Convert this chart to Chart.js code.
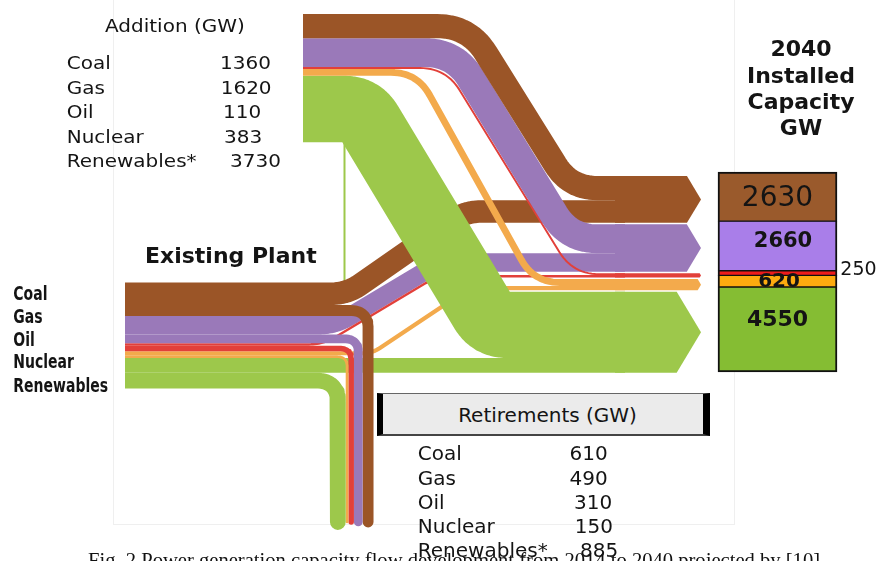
<!DOCTYPE html>
<html>
<head>
<meta charset="utf-8">
<title>Capacity flow 2014-2040</title>
<script src="https://cdn.jsdelivr.net/npm/chart.js@4.4.1/dist/chart.umd.min.js"></script>
<style>
html,body{margin:0;padding:0;background:#fff;}
#wrap{position:relative;width:878px;height:561px;overflow:hidden;background:#fff;}
#c{position:absolute;left:0;top:0;}
.t{position:absolute;white-space:pre;font-family:"DejaVu Sans",Verdana,sans-serif;color:#141414;line-height:1;}
#frame{position:absolute;left:113px;top:-2px;width:620px;height:526px;border:1px solid #efefef;border-top:none;}
#retbox{position:absolute;left:377px;top:393px;width:333px;height:43px;box-sizing:border-box;background:#ebebeb;border-top:1px solid #666;border-bottom:2px solid #444;border-left:6px solid #000;border-right:7px solid #000;}
#caption{position:absolute;left:88px;top:550px;font-family:"Liberation Serif","Times New Roman",serif;font-size:20.6px;line-height:1;white-space:pre;color:#111;}
</style>
</head>
<body>
<div id="wrap">
  <div id="frame"></div>
  <canvas id="c" width="878" height="561"></canvas>
  <div id="retbox"></div>
  <div id="caption">Fig. 2 Power generation capacity flow development from 2014 to 2040 projected by [10]</div>
</div>
<script>
// ---------------- DATA ----------------
const categories = ['Coal', 'Gas', 'Oil', 'Nuclear', 'Renewables'];
const tableLabels = ['Coal', 'Gas', 'Oil', 'Nuclear', 'Renewables*'];
const additionGW = [1360, 1620, 110, 383, 3730];
const retirementGW = [610, 490, 310, 150, 885];
const installed2040GW = [2630, 2660, 250, 620, 4550];

// ---------------- LAYOUT / STYLE ----------------
const K = 0.0178;                       // px per GW
const bandColors = ['#9b5527', '#9a79b9', '#e2403a', '#f3aa4c', '#9dc84b'];
const boxColors  = ['#9a5a2c', '#a97ee9', '#ee1b1b', '#fdab0f', '#85bd33'];
const X_LEFT_EXIST = 125, X_LEFT_ADD = 303, X_END = 615, X_TIP = 701;
const ADD_TOP = 14, FINAL_TOP = 176, FINAL_GAP = 1.5;
const RET_LEFT = 330, RET_BOTTOM = 522;
const addBends = [[469, 570], [455, 569], [446, 573], [417, 534], [361, 491]];
const addRadius = [32, 30, 26, 26, 16];
const contBends = [[347, 465], [335, 440], [323, 437], [372, 470], null];
const contRadius = [16, 16, 14, 10, 0];
const retRadius = [18, 14, 12, 10, 22];
const BOX_X = 777.5, BOX_W = 119, BOX_TOP = 172, BOX_BOTTOM = 372, H = 561;

// ---------------- DERIVED ----------------
const existingGW = installed2040GW.map((v, i) => v + retirementGW[i] - additionGW[i]);
const continuingGW = existingGW.map((v, i) => v - retirementGW[i]);
const w = v => v * K;

const finTop = []; let yy = FINAL_TOP;
installed2040GW.forEach((v, i) => { finTop[i] = yy; yy += w(v) + FINAL_GAP; });
const finAddC = i => finTop[i] + w(additionGW[i]) / 2;
const finExC = i => finTop[i] + w(additionGW[i]) + w(continuingGW[i]) / 2;

const addTop = []; yy = ADD_TOP;
additionGW.forEach((v, i) => { addTop[i] = yy; yy += w(v); });

let e0 = finTop[4] + w(additionGW[4]);
for (let i = 0; i < 4; i++) e0 -= w(existingGW[i]);
const exTop = []; yy = e0;
existingGW.forEach((v, i) => { exTop[i] = yy; yy += w(v); });

const retX = []; let xx = RET_LEFT;
for (let i = 4; i >= 0; i--) { retX[i] = xx + w(retirementGW[i]) / 2; xx += w(retirementGW[i]); }

function rounded(pts, r) {
  if (!r) return pts;
  const out = [pts[0]];
  for (let i = 1; i < pts.length - 1; i++) {
    const p0 = pts[i - 1], p = pts[i], p1 = pts[i + 1];
    const d0 = Math.hypot(p.x - p0.x, p.y - p0.y), d1 = Math.hypot(p1.x - p.x, p1.y - p.y);
    const d = Math.min(r, d0 / 2, d1 / 2);
    const a = {x: p.x + (p0.x - p.x) * d / d0, y: p.y + (p0.y - p.y) * d / d0};
    const b = {x: p.x + (p1.x - p.x) * d / d1, y: p.y + (p1.y - p.y) * d / d1};
    const n = 14;
    for (let s = 0; s <= n; s++) {
      const t = s / n, u = 1 - t;
      out.push({x: u * u * a.x + 2 * u * t * p.x + t * t * b.x, y: u * u * a.y + 2 * u * t * p.y + t * t * b.y});
    }
  }
  out.push(pts[pts.length - 1]);
  return out;
}

const datasets = [];
function lineDS(label, pts, width, color, order) {
  datasets.push({type: 'line', label, data: pts, borderColor: color, backgroundColor: color,
    borderWidth: width, fill: false, pointRadius: 0, pointHoverRadius: 0, pointHitRadius: 0,
    tension: 0, borderCapStyle: 'butt', borderJoinStyle: 'round', order, xAxisID: 'x', yAxisID: 'y'});
}
function shapeDS(label, pts, color, order) {
  datasets.push({type: 'line', label, data: pts, borderColor: 'rgba(0,0,0,0)', backgroundColor: color,
    borderWidth: 0, fill: 'shape', pointRadius: 0, pointHoverRadius: 0, pointHitRadius: 0,
    tension: 0, order, xAxisID: 'x', yAxisID: 'y'});
}

// thin connector seen under the renewable addition
lineDS('connector', [{x: 344.5, y: addTop[4] + w(additionGW[4])}, {x: 344.5, y: e0}], 2, bandColors[4], 900);

// existing plant continuing to 2040
categories.forEach((c, i) => {
  const cy = exTop[i] + w(continuingGW[i]) / 2;
  let pts;
  if (contBends[i]) {
    pts = [{x: X_LEFT_EXIST, y: cy}, {x: contBends[i][0], y: cy}, {x: contBends[i][1], y: finExC(i)}, {x: X_END + 10, y: finExC(i)}];
  } else {
    pts = [{x: X_LEFT_EXIST, y: cy}, {x: X_END + 10, y: finExC(i)}];
  }
  lineDS(c + ' existing', rounded(pts, contRadius[i]), w(continuingGW[i]), bandColors[i], 800 - i);
});

// renewables addition (beneath other additions)
function addPath(i) {
  const cy = addTop[i] + w(additionGW[i]) / 2;
  return rounded([{x: X_LEFT_ADD, y: cy}, {x: addBends[i][0], y: cy}, {x: addBends[i][1], y: finAddC(i)}, {x: X_END + 10, y: finAddC(i)}], addRadius[i]);
}
lineDS(categories[4] + ' addition', addPath(4), w(additionGW[4]), bandColors[4], 700);

// retirements
categories.forEach((c, i) => {
  const cy = exTop[i] + w(continuingGW[i]) + w(retirementGW[i]) / 2;
  const pts = [{x: X_LEFT_EXIST, y: cy}, {x: retX[i], y: cy}, {x: retX[i], y: RET_BOTTOM}];
  lineDS(c + ' retirement', rounded(pts, retRadius[i]), w(retirementGW[i]), bandColors[i], 600 - i);
});

// other additions
[3, 2, 1, 0].forEach((i, j) => {
  lineDS(categories[i] + ' addition', addPath(i), w(additionGW[i]), bandColors[i], 500 - j);
});

// arrow heads of the 2040 bands
categories.forEach((c, i) => {
  const top = finTop[i], hh = w(installed2040GW[i]), bot = top + hh, mid = top + hh / 2;
  const cx = X_TIP - 0.3 * hh;
  shapeDS(c + ' 2040', [{x: X_END, y: top}, {x: cx, y: top}, {x: X_TIP, y: mid}, {x: cx, y: bot}, {x: X_END, y: bot}, {x: X_END, y: top}], bandColors[i], 400 - i);
});

// stacked 2040 installed capacity box
const total = installed2040GW.reduce((a, b) => a + b, 0);
const range = total * H / (BOX_BOTTOM - BOX_TOP);
const y2min = -(H - BOX_BOTTOM) / H * range;
const y2max = y2min + range;
let cum = 0; const barData = [], barBg = [];
for (let i = 4; i >= 0; i--) {
  barData.push({x: BOX_X, y: [cum, cum + installed2040GW[i]]});
  barBg.push(boxColors[i]);
  cum += installed2040GW[i];
}
datasets.push({type: 'bar', label: '2040 Installed Capacity', data: barData, backgroundColor: barBg,
  borderColor: '#111', borderSkipped: false,
  borderWidth: ctx => ({left: 2, right: 2, top: ctx.dataIndex === 4 ? 2 : 1, bottom: ctx.dataIndex === 0 ? 2 : 1}),
  barThickness: BOX_W, xAxisID: 'x', yAxisID: 'y2', order: 10});

new Chart(document.getElementById('c'), {
  type: 'line',
  data: {datasets},
  options: {
    responsive: false, animation: false, devicePixelRatio: 1, events: [],
    layout: {padding: 0},
    plugins: {legend: {display: false}, tooltip: {enabled: false}, title: {display: false}},
    scales: {
      x: {type: 'linear', min: 0, max: 878, display: false, offset: false, grid: {offset: false}},
      y: {type: 'linear', min: 0, max: 561, reverse: true, display: false, offset: false},
      y2: {type: 'linear', min: y2min, max: y2max, display: false, offset: false}
    }
  }
});

// ---------------- TEXT ----------------
const wrap = document.getElementById('wrap');
function addText(txt, x, cy, o) {
  const d = document.createElement('div');
  d.className = 't';
  d.textContent = txt;
  d.style.left = x + 'px';
  d.style.top = cy + 'px';
  d.style.fontSize = o.size + 'px';
  d.style.fontWeight = o.bold ? '700' : '400';
  const tx = o.align === 'center' ? '-50%' : '0';
  d.style.transformOrigin = o.align === 'center' ? '50% 50%' : '0 50%';
  d.style.transform = `translate(${tx},-50%) scale(${o.sx || 1},${o.sy || 1})`;
  wrap.appendChild(d);
  return d;
}
const addRowY = [63, 87.5, 112, 136.5, 161];
const addNumX = [220, 220.7, 223, 224, 230];
addText('Addition (GW)', 105, 25.5, {size: 20, sy: 0.92});
tableLabels.forEach((l, i) => {
  addText(l, 66.7, addRowY[i], {size: 20, sy: 0.92});
  addText(String(additionGW[i]), addNumX[i], addRowY[i], {size: 20, sy: 0.92});
});

const retRowY = [453, 477.5, 501.5, 525.5, 549.5];
const retNumX = [569.6, 569.6, 574, 574.8, 580];
addText('Retirements (GW)', 547.5, 415, {size: 20, align: 'center'});
tableLabels.forEach((l, i) => {
  addText(l, 417.8, retRowY[i], {size: 20});
  addText(String(retirementGW[i]), retNumX[i], retRowY[i], {size: 20});
});

const leftLabY = [293, 316, 339, 361.3, 384.7];
categories.forEach((c, i) => addText(c, 13.3, leftLabY[i], {size: 14, bold: true, sy: 1.38}));
addText('Existing Plant', 145, 256, {size: 22, bold: true, sy: 0.95});

const capTitle = ['2040', 'Installed', 'Capacity', 'GW'];
const capY = [49.3, 76, 102, 128.3];
capTitle.forEach((t, i) => addText(t, 801, capY[i], {size: 22, bold: true, align: 'center', sy: 0.93}));

const boxLabel = [
  {x: 777.5, y: 197, size: 28, bold: false},
  {x: 783, y: 240, size: 21, bold: true},
  {x: 858.5, y: 268, size: 19, bold: false},
  {x: 779, y: 279.5, size: 20, bold: true},
  {x: 777.5, y: 319, size: 22, bold: true}
];
installed2040GW.forEach((v, i) => {
  const b = boxLabel[i];
  addText(String(v), b.x, b.y, {size: b.size, bold: b.bold, align: 'center'});
});
</script>
</body>
</html>
